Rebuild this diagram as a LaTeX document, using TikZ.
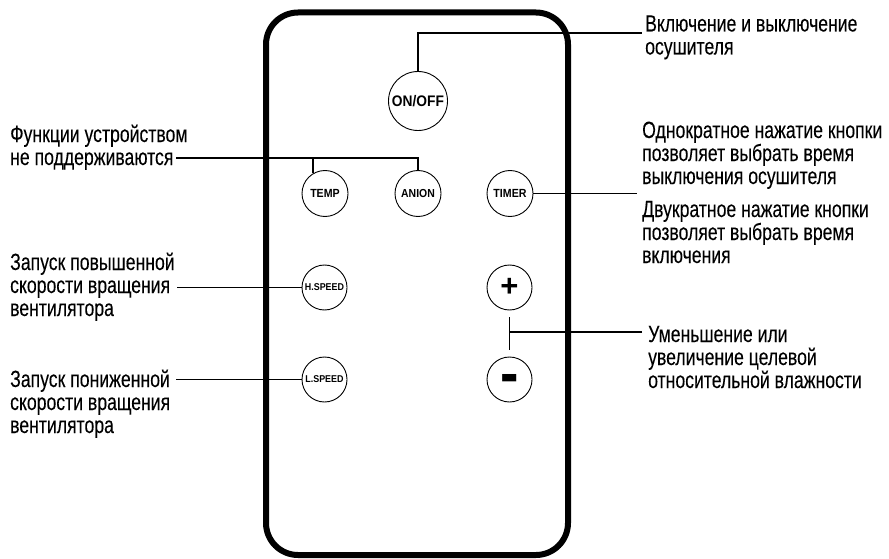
\documentclass[tikz,border=0pt]{standalone}
\usepackage{fontspec}
\setmainfont{Liberation Sans}[FakeStretch=0.75,FakeBold=0.1]
\newfontfamily\btnfont{Liberation Sans Bold}[FakeStretch=0.9]
\newfontfamily\symfont{Liberation Sans Bold}
\begin{document}
\begin{tikzpicture}[x=1pt,y=-1pt]
\tikzset{
  btn/.style={draw, circle, line width=0.9pt, inner sep=0pt, minimum size=46pt,
    font=\btnfont\fontsize{11.8}{12}\selectfont},
  lbl/.style={inner sep=0pt, align=left, anchor=base west,
    font=\fontsize{23.5}{23}\selectfont},
  conn/.style={line width=1.3pt},
  body/.style={draw, line width=6pt, rounded corners=32pt, inner sep=0pt,
    minimum width=302pt, minimum height=542.5pt}
}
\useasboundingbox (0,0) rectangle (889,559);
% remote body
\node[body] (remote) at (417,283.75) {};
% buttons
\node[btn, minimum size=59pt, font=\btnfont\fontsize{15.3}{16}\selectfont] (onoff) at (418,101) {ON/OFF};
\node[btn] (temp) at (325,193.5) {TEMP};
\node[btn, font=\btnfont\fontsize{11.6}{12}\selectfont] (anion) at (418,193.5) {ANION};
\node[btn] (timer) at (510,193.5) {TIMER};
\node[btn, minimum size=45pt, font=\btnfont\fontsize{9.9}{10}\selectfont] (hspeed) at (324.5,287.5) {H.SPEED};
\node[btn, minimum size=45pt, font=\btnfont\fontsize{9.9}{10}\selectfont] (lspeed) at (324.5,379.5) {L.SPEED};
\node[btn, minimum size=45pt, font=\symfont\fontsize{31}{31}\selectfont] (plus) at (509.5,287.5) {\raisebox{-1.5pt}{+}};
\node[btn, minimum size=45pt, font=\symfont\fontsize{28}{28}\selectfont] (minus) at (509.5,379.5) {\smash{\raisebox{-21pt}{\scalebox{1}[2.4]{−}}}};
% labels (anchored at the baseline of the last line)
\node[lbl] (onofftxt) at (645,54.5) {Включение и выключение\\осушителя};
\node[lbl] (functxt) at (10,165) {Функции устройством\\не поддерживаются};
\node[lbl] (timertxt) at (642,184) {Однократное нажатие кнопки\\позволяет выбрать время\\выключения осушителя};
\node[lbl] (timertxtb) at (642,263) {Двукратное нажатие кнопки\\позволяет выбрать время\\включения};
\node[lbl] (hstxt) at (10,316) {Запуск повышенной\\скорости вращения\\вентилятора};
\node[lbl] (lstxt) at (10,433) {Запуск пониженной\\скорости вращения\\вентилятора};
\node[lbl] (humtxt) at (648,388) {Уменьшение или\\увеличение целевой\\относительной влажности};
% connector ends
\coordinate (c-on) at (642,33);
\coordinate (c-fn) at (176,158);
\coordinate (c-tm) at (637,193.5);
\coordinate (c-hs) at (177,287.5);
\coordinate (c-ls) at (176,379.5);
\coordinate (c-hu) at (642,332);
% connectors
\draw[conn] (onoff.north) |- (c-on);
\draw[conn] (c-fn) -| (anion.north);
\draw[conn] (temp.121) -- (temp.121 |- c-fn);
\draw[conn] (timer.east) -- (c-tm);
\draw[conn] (c-hs) -- (hspeed.west);
\draw[conn] (c-ls) -- (lspeed.west);
\draw[conn] ([yshift=-7pt]plus.south) -- ([yshift=7pt]minus.north);
\draw[conn] (c-hu) -- (plus.south |- c-hu);
\end{tikzpicture}
\end{document}
